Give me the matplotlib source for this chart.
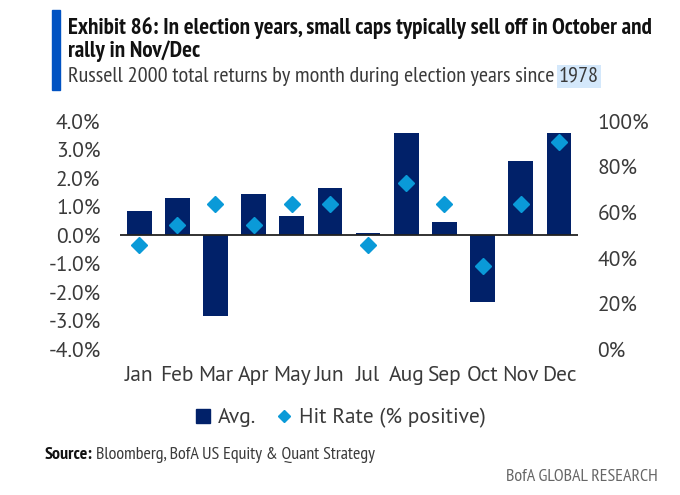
import matplotlib.pyplot as plt
import matplotlib.font_manager as fm
from matplotlib.lines import Line2D

months = ["Jan", "Feb", "Mar", "Apr", "May", "Jun", "Jul", "Aug", "Sep", "Oct", "Nov", "Dec"]
avg_ret = [0.85, 1.29, -2.84, 1.45, 0.67, 1.65, 0.07, 3.57, 0.47, -2.34, 2.61, 3.59]
hit_rate = [45.5, 54.5, 63.6, 54.5, 63.6, 63.6, 45.5, 72.7, 63.6, 36.4, 63.6, 90.9]
left_ticks = [4, 3, 2, 1, 0, -1, -2, -3, -4]
right_ticks = [100, 80, 60, 40, 20, 0]

names = {f.name for f in fm.fontManager.ttflist}


def pick(cands):
    for c in cands:
        if c in names:
            return c
    return "DejaVu Sans"


narrow = pick(["PT Sans Narrow", "Fira Sans Condensed", "Roboto Condensed", "Liberation Sans Narrow"])
body = pick(["PT Sans", "Open Sans", "Noto Sans"])
plt.rcParams["font.family"] = [body, "DejaVu Sans"]

navy = "#012169"
cyan = "#0a9ad8"
grey = "#3a3a3a"

fig = plt.figure(figsize=(6.8, 4.95), dpi=100)
ax = fig.add_axes([0.1765, 0.295, 0.6735, 0.4606])
ax2 = ax.twinx()

x = list(range(len(months)))
ax.bar(x, avg_ret, width=0.65, color=navy, zorder=2)
ax.axhline(0, color="#222222", lw=1.3, zorder=3)
ax2.plot(x, hit_rate, "D", color=cyan, ms=8, ls="none", zorder=4)

ax.set_xlim(-0.5, 11.5)
ax.set_ylim(-4, 4)
ax2.set_ylim(0, 100)
ax.set_yticks(left_ticks)
ax.set_yticklabels(["%.1f%%" % v for v in left_ticks])
ax2.set_yticks(right_ticks)
ax2.set_yticklabels(["%d%%" % v for v in right_ticks])
ax.set_xticks(x)
ax.set_xticklabels(months)

for a in (ax, ax2):
    for s in a.spines.values():
        s.set_visible(False)
    a.tick_params(length=0, labelsize=15.5, colors=grey)
ax.tick_params(axis="x", pad=12)
ax.tick_params(axis="y", pad=14)
ax2.tick_params(axis="y", pad=14)

ax.set_zorder(ax2.get_zorder() - 1)
ax.patch.set_visible(False)

handles = [
    Line2D([], [], marker="s", color=navy, ls="none", ms=10),
    Line2D([], [], marker="D", color=cyan, ls="none", ms=6.5),
]
fig.legend(handles, ["Avg.", "Hit Rate (% positive)"], loc="center", bbox_to_anchor=(0.5, 1 - 418 / 495),
           ncol=2, frameon=False, fontsize=15.5, handletextpad=0.3, columnspacing=0.9,
           labelcolor=grey, handlelength=0.8)

# header
fig.patches.append(plt.Rectangle((52 / 680, 1 - 90 / 495), 8 / 680, 80 / 495,
                                 transform=fig.transFigure, color="#0052c2"))
fig.text(68 / 680, 1 - 28 / 495, "Exhibit 86: In election years, small caps typically sell off in October and",
         fontsize=16.7, fontweight="bold", va="center", color="#111111", family=narrow)
fig.text(68 / 680, 1 - 51 / 495, "rally in Nov/Dec", fontsize=16.7, fontweight="bold", va="center",
         color="#111111", family=narrow)
sub = fig.text(68 / 680, 1 - 76 / 495, "Russell 2000 total returns by month during election years since ",
               fontsize=16, va="center", color=grey, family=narrow)
fig.canvas.draw()
bb = sub.get_window_extent()
fig.text(bb.x1 / 680, 1 - 76 / 495, "1978", fontsize=16, va="center", color=grey, family=narrow,
         bbox=dict(facecolor="#d4e8fb", edgecolor="none", pad=1.5))

src = fig.text(45 / 680, 1 - 455 / 495, "Source:", fontsize=13, fontweight="bold", va="center",
               color="#111111", family=narrow)
fig.canvas.draw()
sb = src.get_window_extent()
fig.text((sb.x1 + 3) / 680, 1 - 455 / 495, "Bloomberg, BofA US Equity & Quant Strategy", fontsize=13,
         va="center", color=grey, family=narrow)
fig.text(658 / 680, 1 - 477 / 495, "BofA GLOBAL RESEARCH", fontsize=13, va="center", ha="right",
         color="#666666", family=narrow)

fig.savefig("out.png", dpi=100)
